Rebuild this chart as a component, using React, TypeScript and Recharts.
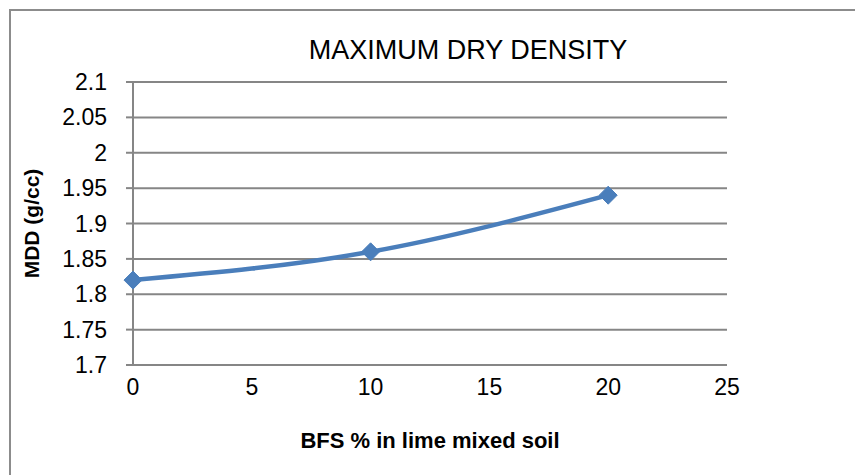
import React from 'react';
import { LineChart, Line, XAxis, YAxis, CartesianGrid, Label } from 'recharts';

const bfsPercent = [0, 10, 20];
const mddValues = [1.82, 1.86, 1.94];
const xTicks = [0, 5, 10, 15, 20, 25];
const yTicks = [1.7, 1.75, 1.8, 1.85, 1.9, 1.95, 2, 2.05, 2.1];

const data = bfsPercent.map((x, i) => ({ x, mdd: mddValues[i] }));

const FONT = '"Liberation Sans", Arial, sans-serif';
const BLUE = '#4A7EBB';
const GRID = '#868686';

const Diamond = (props: any) => {
  const { cx, cy, index } = props;
  if (cx == null || cy == null) return null;
  const r = 9;
  return (
    <polygon
      key={`d-${index}`}
      points={`${cx},${cy - r} ${cx + r},${cy} ${cx},${cy + r} ${cx - r},${cy}`}
      fill={BLUE}
      stroke={BLUE}
    />
  );
};

const XTick = (props: any) => {
  const { x, y, payload } = props;
  return (
    <text x={x} y={y + 28} textAnchor="middle" fontSize={23} fontFamily={FONT} fill="#000">
      {payload.value}
    </text>
  );
};

const YTick = (props: any) => {
  const { y, payload } = props;
  return (
    <text x={107} y={y + 8} textAnchor="end" fontSize={23} fontFamily={FONT} fill="#000">
      {payload.value}
    </text>
  );
};

const App: React.FC = () => {
  return (
    <div style={{ position: 'absolute', left: 0, top: 0, width: 855, height: 475, overflow: 'hidden', background: '#fff', fontFamily: FONT }}>
      <div style={{ position: 'absolute', left: 9, top: 9, width: 900, height: 500, border: '2px solid #8c8c8c', boxSizing: 'border-box' }} />
      <div style={{ position: 'absolute', left: 0, width: 936, top: 34, textAlign: 'center', fontSize: 27, color: '#000', lineHeight: '32px' }}>
        MAXIMUM DRY DENSITY
      </div>
      <div style={{ position: 'absolute', left: 0, top: 0 }}>
        <LineChart width={855} height={475} data={data} margin={{ top: 82, right: 128, bottom: 0, left: 0 }}>
          <CartesianGrid vertical={false} stroke={GRID} strokeWidth={2} />
          <XAxis
            dataKey="x"
            type="number"
            domain={[0, 25]}
            ticks={xTicks}
            axisLine={false}
            tickLine={false}
            tickSize={0}
            height={110}
            tick={<XTick />}
          >
            <Label
              value="BFS % in lime mixed soil"
              position="insideTop"
              offset={67}
              style={{ fontSize: 22, fontWeight: 'bold', fill: '#000', fontFamily: FONT }}
            />
          </XAxis>
          <YAxis
            type="number"
            domain={[1.7, 2.1]}
            ticks={yTicks}
            width={133}
            axisLine={{ stroke: GRID, strokeWidth: 2 }}
            tickLine={{ stroke: GRID, strokeWidth: 2 }}
            tickSize={7}
            interval={0}
            tick={<YTick />}
          >
            <Label
              value="MDD (g/cc)"
              angle={-90}
              position="insideLeft"
              offset={32}
              style={{ fontSize: 21, fontWeight: 'bold', fill: '#000', fontFamily: FONT, textAnchor: 'middle' }}
            />
          </YAxis>
          <Line
            type="monotone"
            dataKey="mdd"
            stroke={BLUE}
            strokeWidth={4.5}
            dot={Diamond}
            activeDot={false}
            isAnimationActive={false}
          />
        </LineChart>
      </div>
    </div>
  );
};

export default App;
